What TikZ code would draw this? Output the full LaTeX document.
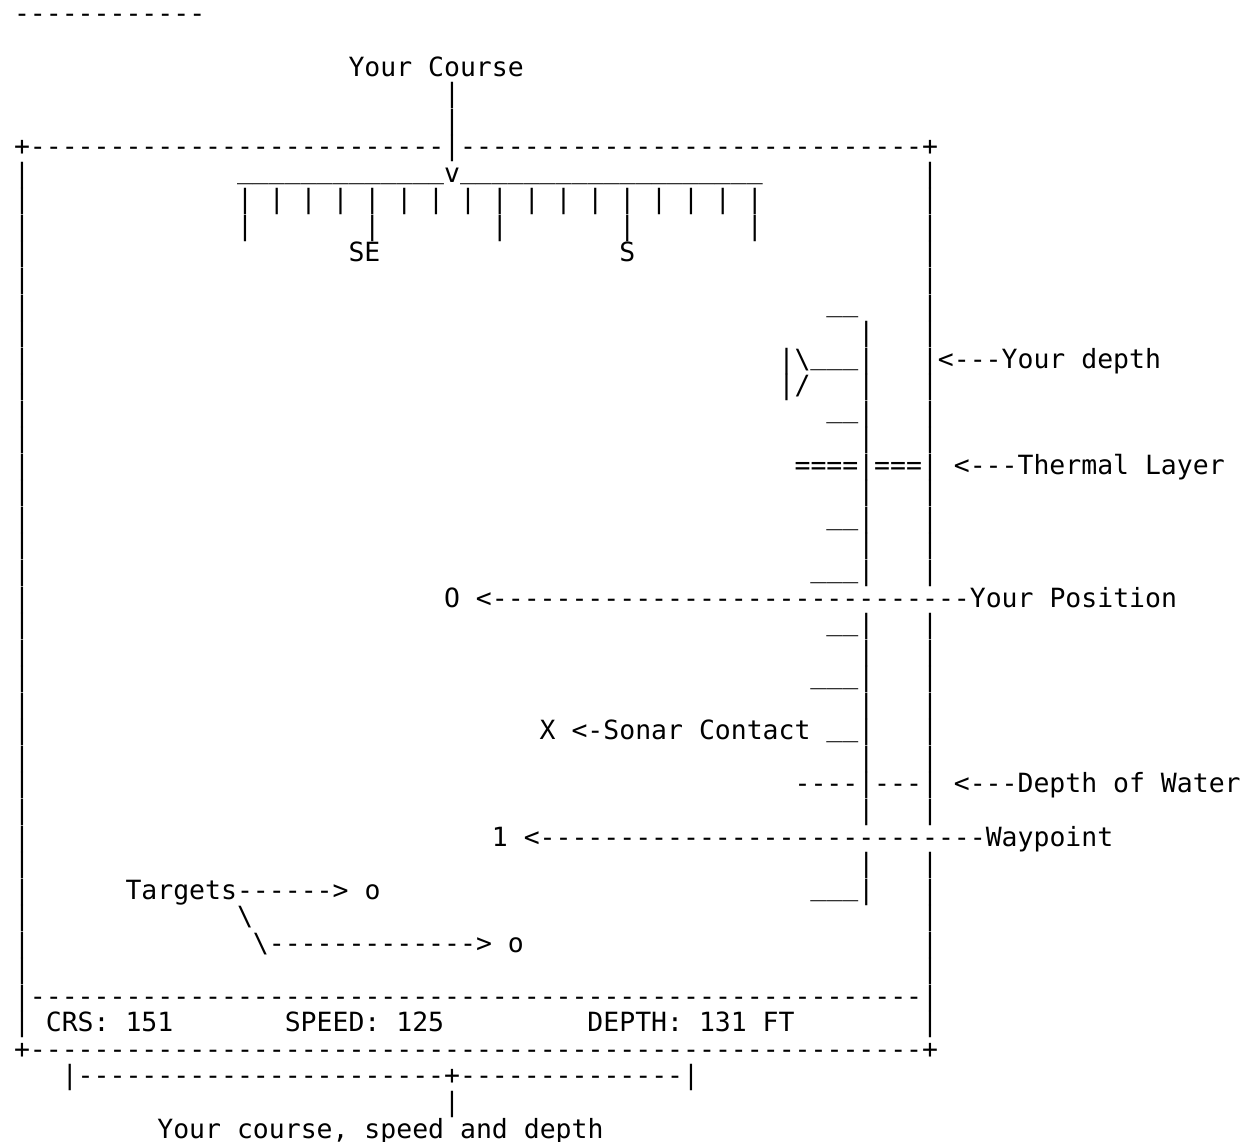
\documentclass[tikz,border=0pt]{standalone}
\usepackage{fontspec}
\setmonofont{DejaVu Sans Mono}[Ligatures=TeXOff]
\ExplSyntaxOn
\cs_new:Npn \reptxt #1#2 { \prg_replicate:nn {#1} {#2} }
\ExplSyntaxOff

\begin{document}
\begin{tikzpicture}[x=9.558pt,y=15.93pt]
\tikzset{
  asc/.style={inner sep=0pt,outer sep=0pt,anchor=base west,
    font=\ttfamily\fontsize{15.88pt}{16pt}\selectfont\frenchspacing},
  uline/.style={asc,yshift=2pt}
}
\useasboundingbox (-0.879,0.866) rectangle (77.34,-42.147);
\node[asc] (n_rule) at (0,0) {\reptxt{12}{-}};
\node[asc] (n_course) at (21,-2) {Your Course};
\node[asc] (n_ptr_a) at (27,-3) {|};
\node[asc] (n_ptr_b) at (27,-4) {|};
\node[asc] (n_top) at (0,-5) {+\reptxt{26}{-}|\reptxt{29}{-}+};
\foreach \r in {6,...,38} \node[asc] at (0,-\r) {|};
\foreach \r in {6,...,21} \node[asc] at (57,-\r) {|};
\foreach \r in {23,...,30} \node[asc] at (57,-\r) {|};
\foreach \r in {32,...,38} \node[asc] at (57,-\r) {|};
\node[uline] (n_scale_l) at (14,-6) {\reptxt{13}{\_}};
\node[asc] (n_mark) at (27,-6) {v};
\node[uline] (n_scale_r) at (28,-6) {\reptxt{19}{\_}};
\foreach \c in {14,16,...,46} \node[asc] at (\c,-7) {|};
\foreach \c in {14,22,30,38,46} \node[asc] at (\c,-8) {|};
\node[asc] (n_se) at (21,-9) {SE};
\node[asc] (n_s) at (38,-9) {S};
\foreach \r in {12,...,21} \node[asc] at (53,-\r) {|};
\foreach \r in {23,...,30} \node[asc] at (53,-\r) {|};
\foreach \r in {32,33} \node[asc] at (53,-\r) {|};
\node[uline] (n_tick_a) at (51,-11) {\_\_};
\node[asc] (n_sub_a) at (48,-13) {|\textbackslash};
\node[uline] (n_sub_c) at (50,-13) {\_\_\_};
\node[asc] (n_sub_b) at (48,-14) {|/};
\node[asc] (n_depth) at (58,-13) {<---Your depth};
\node[uline] (n_tick_b) at (51,-15) {\_\_};
\node[asc] (n_therm_l) at (49,-17) {====};
\node[asc] (n_therm_r) at (54,-17) {===};
\node[asc] (n_therm) at (59,-17) {<---Thermal Layer};
\node[uline] (n_tick_c) at (51,-19) {\_\_};
\node[uline] (n_tick_d) at (50,-21) {\_\_\_};
\node[asc] (n_own) at (27,-22) {O};
\node[asc] (n_pos) at (29,-22) {<\reptxt{30}{-}Your Position};
\node[uline] (n_tick_e) at (51,-23) {\_\_};
\node[uline] (n_tick_f) at (50,-25) {\_\_\_};
\node[asc] (n_sonar) at (33,-27) {X <-Sonar Contact};
\node[uline] (n_tick_g) at (51,-27) {\_\_};
\node[asc] (n_floor_l) at (49,-29) {----};
\node[asc] (n_floor_r) at (54,-29) {---};
\node[asc] (n_water) at (59,-29) {<---Depth of Water};
\node[asc] (n_wp) at (30,-31) {1};
\node[asc] (n_wpline) at (32,-31) {<\reptxt{28}{-}Waypoint};
\node[uline] (n_tick_h) at (50,-33) {\_\_\_};
\node[asc] (n_tgt) at (7,-33) {Targets\reptxt{6}{-}> o};
\node[asc] (n_tgt_a) at (14,-34) {\textbackslash};
\node[asc] (n_tgt_b) at (15,-35) {\textbackslash\reptxt{13}{-}> o};
\node[asc] (n_sep) at (1,-37) {\reptxt{56}{-}};
\node[asc] (n_crs) at (2,-38) {CRS: 151};
\node[asc] (n_spd) at (17,-38) {SPEED: 125};
\node[asc] (n_dep) at (36,-38) {DEPTH: 131 FT};
\node[asc] (n_bottom) at (0,-39) {+\reptxt{56}{-}+};
\node[asc] (n_brace) at (3,-40) {|\reptxt{23}{-}+\reptxt{14}{-}|};
\node[asc] (n_ptr_c) at (27,-41) {|};
\node[asc] (n_status) at (9,-42) {Your course, speed and depth};
\end{tikzpicture}
\end{document}
